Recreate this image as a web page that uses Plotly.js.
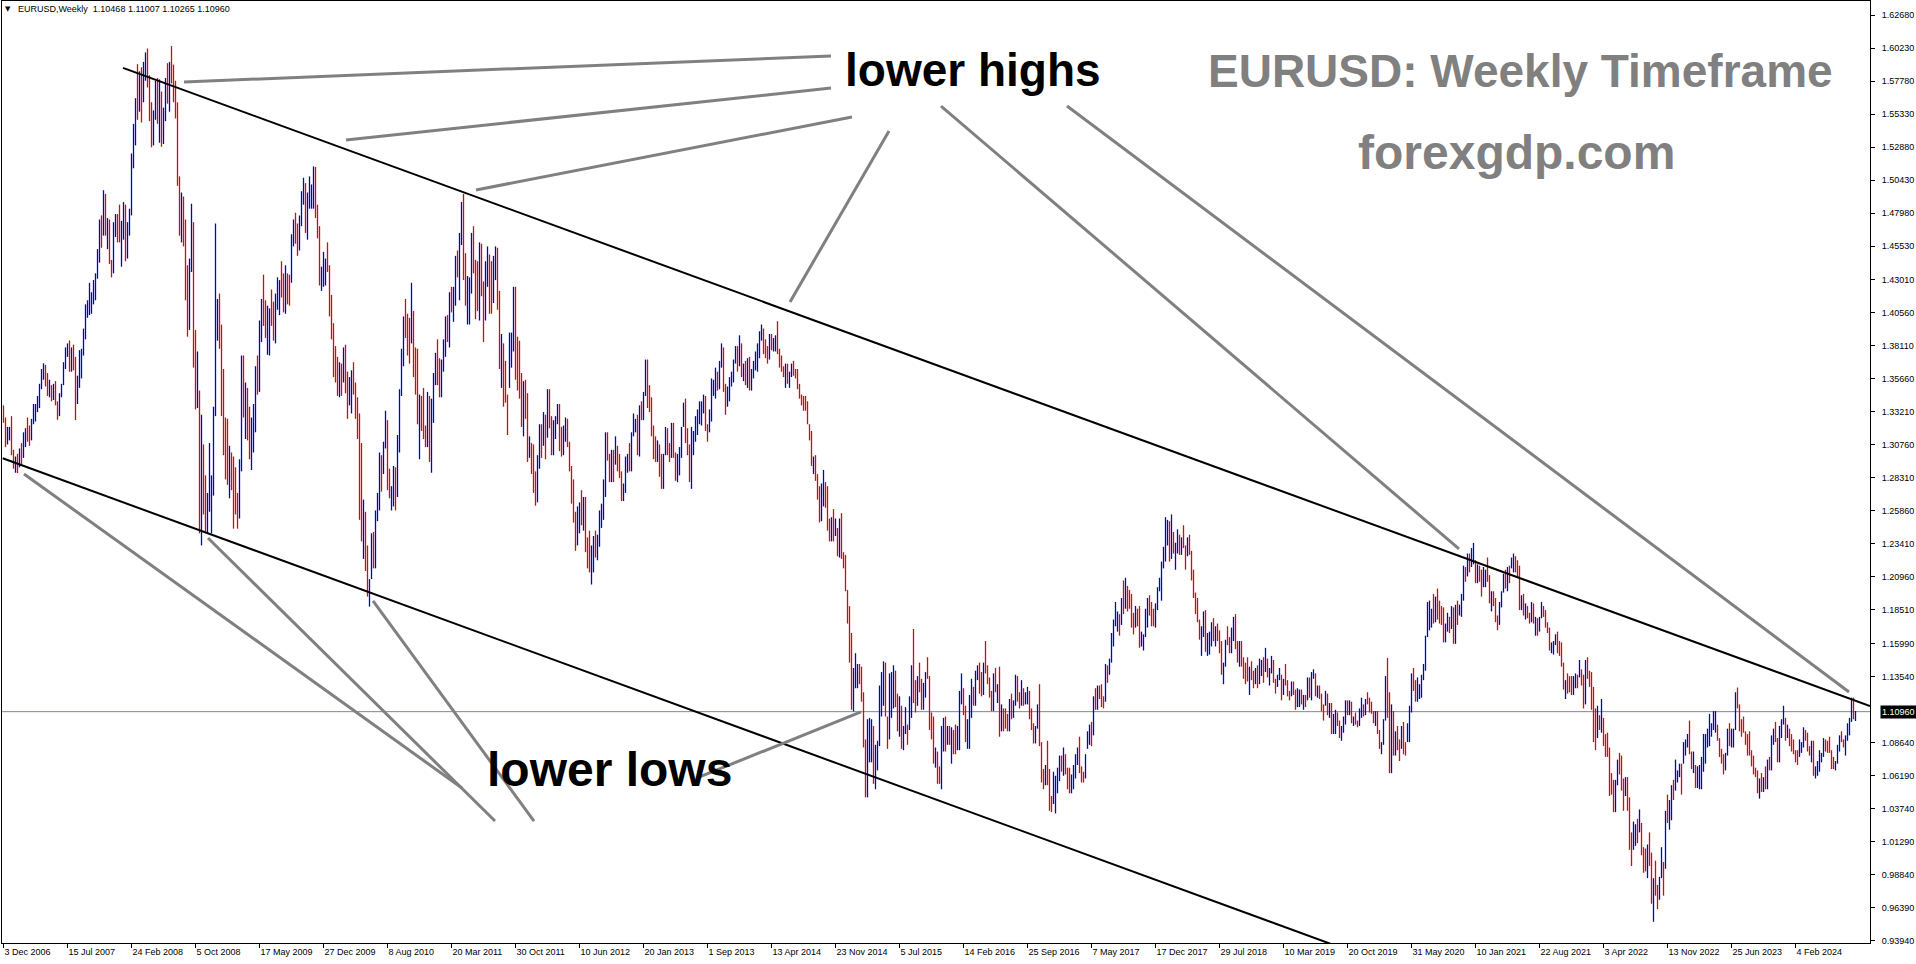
<!DOCTYPE html>
<html><head><meta charset="utf-8">
<script src="https://cdn.plot.ly/plotly-3.0.1.min.js"></script>
<style>html,body{margin:0;padding:0;background:#fff;overflow:hidden}#chart{width:1916px;height:964px}</style>
</head><body><div id="chart"></div>
<script>
// ---------------- DATA (weekly EURUSD bars, prices in 1/10000) ----------------
const PIP = 10000;
const firstOpen = 13300; // open of the first weekly bar; later opens = previous close
const weekHigh = [
13370,13280,13210,13210,13290,
13040,12990,13010,13050,13090,13170,13200,13280,13220,13270,13380,13380,13440,13530,13640,13682,13670,13610,13560,13520,13530,13550,13400,13460,13530,13690,13800,13830,13852,13800,13820,13730,13590,13780,13790,13940,14120,14150,14280,14210,14300,14350,14530,14750,14780,14967,14940,14760,14750,14450,14730,14790,
14790,14860,14740,14880,14860,14730,14830,15240,15460,15650,15903,15850,15880,15920,15990,16019,15820,15620,15560,15780,15800,15790,15700,15580,15800,15910,15920,16038,15900,15780,15620,15070,14950,14920,14750,14410,14460,14867,14730,13930,13770,13480,13300,13080,12850,12720,13090,12850,13360,14720,14160,14200,
13970,13640,13280,13270,13070,13020,12990,12910,12720,12970,13740,13740,13540,13500,13360,13280,13380,13660,13740,14000,14160,14340,14150,14110,14090,14230,14140,14200,14320,14300,14440,14350,14410,14350,14340,14640,14750,14800,14720,14780,14960,15060,15020,14950,15070,15010,15144,15140,14860,14700,14400,14510,
14460,14580,14410,14190,13980,13810,13730,13690,13680,13800,13820,13620,13580,13630,13690,13540,13430,13310,13090,12670,12580,12330,12080,12420,12430,12590,12720,13020,13000,13100,13330,13260,12900,12770,12920,12910,13150,13490,13790,14030,14160,14050,14020,14280,14070,13800,13790,13450,13440,13500,13220,13470,
13440,13420,13610,13760,13860,13720,13710,13860,14030,14040,14210,14250,14250,14480,14520,14650,14880,14940,14500,14330,14320,14650,14700,14450,14440,14580,14570,14290,14440,14550,14490,14440,14480,14550,14540,14220,13900,13830,13700,13450,13910,13910,14250,14250,13880,13850,13610,13550,13560,13460,13140,13090,
13080,12880,13000,13230,13230,13320,13300,13490,13490,13290,13260,13290,13380,13380,13210,13220,13280,13270,13100,12920,12820,12580,12620,12650,12740,12690,12690,12390,12440,12330,12400,12440,12410,12590,12640,12820,13170,13170,13010,13040,13040,13140,13070,13010,12880,12790,12990,13010,13090,13170,13310,13270,
13300,13370,13400,13470,13710,13710,13520,13430,13220,13140,13110,13080,13010,13010,13210,13200,13090,13240,13240,13020,13010,13060,13210,13390,13420,13200,13080,13210,13180,13290,13340,13400,13400,13450,13440,13230,13340,13570,13560,13650,13620,13700,13830,13800,13530,13510,13580,13620,13710,13810,13810,13890,
13830,13680,13700,13720,13730,13640,13700,13770,13830,13920,13970,13940,13860,13810,13900,13900,13870,13890,13995,13790,13740,13660,13680,13680,13620,13680,13700,13640,13640,13530,13450,13440,13440,13400,13230,13180,12990,13000,12860,12770,12790,12890,12800,12770,12530,12540,12600,12530,12460,12530,12570,12280,12260,
12000,11880,11680,11420,11530,11450,11450,11430,11240,10890,11040,11050,11040,10990,10850,10880,11290,11390,11470,11460,11060,11380,11390,11440,11400,11230,11210,11140,10990,11130,11000,11210,11440,11710,11330,11360,11460,11340,11310,11390,11500,11360,11090,11060,10830,10800,10690,10990,11050,11060,10990,10990,
10980,10960,11000,10990,11250,11380,11270,11140,11040,11220,11340,11280,11400,11440,11460,11390,11460,11620,11440,11350,11250,11380,11420,11300,11430,11150,11120,11120,11080,11190,11230,11180,11370,11360,11240,11330,11270,11240,11280,11250,11120,11010,10990,11150,11300,10870,10670,10700,10880,10670,10470,
10650,10620,10680,10770,10770,10830,10780,10680,10680,10630,10700,10780,10830,10910,10690,10650,10780,10950,11000,11020,11210,11270,11290,11290,11300,11210,11450,11440,11490,11680,11780,11910,11840,11820,11940,12070,12090,12030,12000,11970,11830,11880,11860,11880,11690,11670,11860,11940,11960,11910,11860,11900,
12020,12090,12210,12320,12540,12520,12510,12560,12430,12350,12450,12410,12390,12480,12330,12390,12410,12290,12150,11980,11940,11780,11730,11840,11850,11680,11690,11760,11790,11730,11750,11700,11620,11460,11630,11730,11650,11720,11800,11820,11620,11620,11620,11500,11460,11500,11430,11470,11400,11420,11440,11490,
11480,11500,11570,11490,11420,11510,11480,11340,11370,11420,11370,11340,11450,11330,11250,11320,11320,11260,11270,11260,11260,11220,11220,11350,11350,11390,11410,11380,11290,11290,11230,11150,11250,11230,11160,11160,11080,11110,11090,11030,10990,11060,11180,11180,11180,11170,11060,11090,11030,11120,11200,11150,
11190,11240,11200,11170,11100,11100,11100,10960,10870,11040,11360,11495,11240,11150,11100,10950,10990,10890,10990,11020,10870,11010,11140,11380,11420,11330,11350,11300,11370,11450,11660,11910,11920,11860,11970,11950,12010,11920,11880,11870,11750,11830,11800,11880,11870,11890,11920,11890,11970,12180,12170,12270,
12270,12310,12349,12220,12190,12180,12150,12170,12150,12240,12110,11990,11990,11940,11810,11910,11990,12120,12150,12170,12180,12240,12270,12250,12220,12180,11960,11970,11900,11880,11830,11910,11900,11800,11790,11800,11910,11880,11850,11760,11720,11610,11620,11670,11690,11620,11610,11460,11330,11380,11360,11360,
11360,11380,11370,11480,11410,11370,11480,11500,11400,11390,11280,11120,11140,11070,11190,11050,10930,10940,10830,10640,10590,10590,10740,10790,10770,10600,10610,10610,10460,10200,10280,10260,10300,10370,10270,10090,10080,10110,10200,10050,9860,9990,9810,9870,10090,9980,10360,10480,10440,10550,10590,10740,
10660,10710,10710,10870,10890,10930,11030,10800,10800,10700,10690,10700,10760,10930,10930,10970,11080,11010,11100,11100,11000,10900,10820,10780,10790,10970,11010,10970,10970,11240,11275,11150,11040,11060,10950,10930,10950,10810,10770,10680,10660,10600,10640,10610,10690,10740,10760,10920,10970,11020,10900,10990,
11040,11140,11050,11000,10970,10930,10890,10810,10810,10890,10870,10980,10960,10940,10840,10880,10880,10690,10730,10810,10790,10900,10890,10880,10910,10810,10760,10730,10850,10920,10950,10890,10920,11010,11050,11200,11200,11100.7
];
const weekLow = [
13240,13060,13080,13110,13000,
12900,12870,12867,12910,12930,12980,13060,13100,13070,13110,13230,13250,13320,13350,13490,13560,13510,13440,13430,13400,13410,13370,13263,13290,13430,13520,13640,13730,13620,13620,13630,13261,13380,13500,13570,13740,13860,14020,14040,14050,14120,14150,14310,14430,14540,14630,14630,14530,14420,14320,14350,14620,
14580,14580,14400,14600,14440,14460,14630,14780,15130,15300,15490,15550,15470,15620,15780,15730,15480,15286,15300,15490,15460,15320,15290,15310,15480,15610,15550,15760,15620,15500,15000,14630,14580,14550,14150,13880,13930,14360,13650,13340,13350,12420,12330,12560,12420,12420,12580,12420,12700,13290,13850,13790,
13290,13000,12820,12780,12680,12740,12455,12560,12455,12530,12880,13280,13120,13110,12970,12890,13020,13170,13450,13470,13840,13960,13870,13745,13740,13960,13850,13830,14080,14040,14170,14060,14050,14120,14110,14280,14550,14570,14480,14520,14700,14860,14650,14600,14830,14830,14830,14760,14610,14260,14220,14250,
14260,14360,14030,13860,13580,13540,13440,13430,13440,13540,13460,13270,13370,13310,13450,13270,13120,12520,12360,12230,12140,11950,11876,12080,12160,12160,12510,12590,12730,12860,13050,12740,12680,12590,12620,12590,12690,13020,13440,13660,13870,13740,13680,13830,13580,13450,13230,12970,13180,13120,13060,13060,
12950,12870,13240,13520,13520,13430,13430,13620,13730,13840,13800,14060,13990,14110,14320,14150,14560,14300,14110,13970,13970,14200,14350,14010,14070,14000,14180,13840,14000,14250,14050,14050,14130,14300,14080,13640,13500,13360,13390,13150,13500,13650,13770,13560,13480,13420,13210,13140,13270,12950,12980,12860,
12720,12625,12650,12900,12980,13070,12970,13130,13200,13000,13000,13120,13230,13030,12990,13000,13100,13060,12880,12640,12500,12290,12330,12420,12480,12440,12280,12160,12130,12040,12130,12240,12220,12320,12460,12520,12690,12960,12800,12800,12800,12930,12880,12830,12660,12660,12720,12870,12880,12880,13140,13170,
13000,12990,13260,13260,13440,13350,13320,13140,12970,12950,12950,12840,12750,12750,13000,13000,12950,12980,12980,12810,12800,12850,12980,13210,13090,13000,12800,12750,13000,13100,13150,13230,13220,13310,13180,13100,13170,13250,13440,13420,13480,13490,13650,13470,13300,13360,13400,13510,13540,13680,13620,13660,
13580,13550,13520,13500,13480,13480,13570,13630,13620,13720,13850,13750,13720,13680,13710,13780,13770,13770,13750,13650,13620,13580,13500,13530,13500,13580,13590,13570,13490,13420,13370,13330,13330,13230,13110,12920,12860,12810,12670,12500,12510,12620,12610,12440,12360,12360,12360,12400,12250,12240,12230,12160,11990,
11750,11460,11110,11098,11270,11270,11300,11170,10830,10460,10460,10720,10720,10560,10520,10660,10840,11060,11140,11060,10820,10890,11050,11120,11130,10950,10910,10820,10810,10930,10850,10960,11050,11160,11090,11140,11240,11110,11110,11200,11340,10960,10890,10710,10680,10560,10560,10520,10800,10800,10850,10850,
10710,10780,10780,10810,10810,11150,11070,10870,10820,10820,11050,11140,11140,11330,11230,11210,11220,11380,11300,11200,11100,11100,11240,11160,10910,10950,10950,10970,10950,10950,11040,11050,11140,11170,11120,11140,11140,11150,11150,11040,10960,10860,10860,10970,10840,10570,10520,10550,10550,10360,10350,
10410,10340,10490,10580,10650,10620,10630,10520,10490,10490,10520,10600,10700,10640,10570,10570,10600,10820,10850,10840,10920,11110,11110,11190,11130,11120,11170,11310,11370,11460,11580,11730,11690,11660,11740,11820,11860,11840,11860,11720,11670,11720,11730,11570,11580,11550,11650,11720,11810,11730,11730,11720,
11850,11990,11920,12160,12210,12330,12210,12230,12270,12150,12270,12260,12260,12310,12150,12250,12260,12070,11940,11820,11760,11630,11510,11650,11540,11510,11520,11580,11620,11580,11620,11530,11370,11300,11430,11590,11530,11530,11620,11560,11460,11430,11430,11340,11300,11320,11220,11330,11270,11300,11270,11300,
11360,11310,11390,11350,11290,11380,11310,11230,11280,11330,11180,11220,11290,11210,11180,11210,11220,11110,11130,11130,11150,11110,11130,11180,11200,11180,11340,11210,11200,11190,11100,11030,11140,11070,11050,10930,10930,10930,10990,10900,10880,10940,11000,11070,11070,11010,10990,11000,10980,10990,11050,11060,
11070,11150,11090,11080,11010,10990,10930,10820,10780,10850,11030,11050,10640,10640,10770,10770,10810,10730,10820,10780,10770,10870,10870,11090,11250,11170,11170,11190,11200,11330,11400,11650,11700,11720,11750,11760,11780,11750,11740,11610,11610,11690,11680,11710,11600,11600,11740,11810,11800,11920,12060,12100,
12130,12170,12190,12050,12050,12060,11950,12020,12020,12060,11900,11840,11880,11760,11700,11740,11870,11980,12010,11990,12050,12160,12130,12130,12090,11850,11850,11810,11780,11790,11750,11760,11750,11660,11660,11690,11790,11800,11720,11680,11550,11530,11520,11590,11530,11510,11430,11260,11190,11230,11240,11220,
11220,11270,11270,11350,11290,11120,11150,11340,11280,11110,10870,10810,10900,10960,10940,10840,10760,10760,10470,10480,10350,10350,10550,10630,10510,10360,10470,10360,10070,9950,10070,10100,10120,10200,10030,9900,9910,9860,9950,9670,9536,9730,9630,9700,9860,9730,9930,10270,10220,10290,10440,10510,
10570,10610,10480,10710,10770,10830,10780,10670,10640,10530,10530,10520,10520,10650,10710,10830,10840,10910,10960,10940,10880,10760,10710,10630,10660,10770,10840,10830,10830,10960,11120,10950,10910,10940,10850,10770,10770,10690,10630,10610,10490,10450,10500,10500,10520,10520,10660,10660,10850,10870,10720,10720,
10900,11000,10880,10900,10840,10800,10780,10720,10700,10760,10790,10830,10880,10800,10770,10720,10620,10600,10620,10650,10720,10760,10800,10790,10790,10670,10670,10660,10710,10800,10870,10830,10770,10880,10920,11020,11040,11026.5
];
const weekClose = [
13265,13080,13160,13200,13000,
12925,12950,12945,13030,12990,13140,13160,13150,13120,13250,13300,13350,13370,13510,13590,13630,13550,13480,13520,13470,13520,13380,13320,13440,13530,13680,13780,13810,13690,13780,13710,13420,13510,13720,13760,13870,14080,14090,14120,14180,14290,14330,14500,14660,14650,14830,14630,14660,14430,14390,14720,14760,
14720,14620,14690,14830,14510,14640,14790,15180,15360,15620,15590,15800,15690,15810,15960,15790,15500,15470,15500,15760,15550,15690,15400,15560,15780,15690,15900,15860,15720,15550,15020,14720,14860,14670,14270,14160,14400,14610,13780,13400,13420,12680,12740,12730,12580,12590,12690,12710,13310,13950,14040,13920,
13430,13280,12850,12800,12930,12860,12670,12670,12550,12920,13600,13280,13480,13200,13000,13250,13270,13640,13520,13990,14150,13960,13900,13940,14010,13980,13930,14160,14200,14250,14180,14180,14340,14320,14310,14580,14730,14690,14570,14730,14950,15000,14720,14850,14900,14910,14980,14770,14620,14340,14360,14410,
14410,14380,14140,13870,13680,13620,13610,13630,13620,13760,13530,13380,13480,13590,13500,13380,13290,12760,12370,12560,12270,11970,12110,12390,12370,12570,12630,12940,12900,13050,13280,12750,12710,12760,12900,12740,13050,13480,13780,13980,13970,13950,13940,14030,13680,13670,13240,13410,13300,13180,13110,13370,
12980,13380,13600,13610,13580,13500,13680,13750,13990,13900,14180,14090,14230,14470,14440,14570,14820,14310,14120,14160,14310,14640,14430,14310,14190,14500,14260,14150,14390,14390,14290,14230,14390,14500,14210,13650,13800,13500,13390,13380,13880,13890,14140,13790,13740,13530,13240,13440,13390,13040,13050,12960,
12720,12680,12930,13220,13150,13200,13160,13450,13210,13110,13180,13270,13340,13100,13070,13210,13250,13080,12920,12780,12510,12420,12510,12640,12570,12660,12290,12250,12160,12320,12390,12290,12330,12510,12580,12810,13130,12980,12860,13030,12950,13020,12940,12840,12710,12740,12980,12980,12920,13160,13180,13220,
13070,13360,13320,13460,13630,13360,13360,13190,13020,12990,13080,12990,12820,13000,13110,13050,13030,13120,12990,12840,12930,13000,13200,13350,13120,13010,12830,13070,13140,13280,13280,13340,13340,13380,13210,13180,13300,13520,13530,13550,13540,13680,13800,13480,13360,13500,13560,13590,13700,13740,13680,13790,
13590,13670,13540,13680,13490,13630,13690,13740,13800,13910,13910,13790,13760,13700,13890,13810,13830,13870,13760,13700,13630,13630,13640,13540,13600,13640,13600,13600,13520,13430,13420,13410,13400,13240,13130,12950,12960,12830,12690,12520,12630,12760,12670,12450,12440,12530,12390,12450,12290,12470,12240,12190,12000,
11840,11560,11200,11290,11310,11390,11380,11200,10840,10490,10820,10890,10970,10600,10800,10870,11200,11200,11450,11010,10950,11110,11260,11350,11160,11100,11160,10830,10980,10980,10970,11100,11380,11180,11150,11340,11300,11200,11210,11360,11350,11010,11000,10740,10770,10690,10590,10880,10990,10870,10960,10860,
10920,10910,10800,10830,11160,11260,11130,10930,10970,11150,11270,11170,11390,11400,11280,11220,11450,11400,11310,11220,11110,11370,11250,11280,11120,11140,11050,11040,10970,11170,11090,11160,11330,11190,11150,11230,11150,11230,11240,11090,10970,10890,10980,11140,10850,10590,10590,10660,10560,10450,10450,
10520,10530,10640,10700,10690,10780,10640,10620,10560,10620,10670,10740,10800,10650,10640,10620,10720,10900,10990,10930,11200,11180,11280,11200,11200,11190,11420,11400,11470,11660,11750,11770,11820,11760,11920,11860,12030,11950,11950,11810,11730,11820,11780,11600,11610,11660,11790,11930,11890,11770,11750,11860,
12000,12030,12200,12220,12430,12460,12250,12410,12290,12310,12310,12290,12350,12320,12280,12330,12280,12130,11960,11940,11770,11650,11660,11770,11610,11660,11680,11750,11680,11720,11660,11560,11410,11440,11620,11600,11560,11620,11760,11600,11520,11560,11520,11400,11390,11330,11420,11340,11310,11410,11300,11370,
11470,11390,11470,11360,11410,11460,11320,11290,11330,11360,11230,11330,11300,11220,11220,11300,11250,11150,11200,11230,11160,11210,11170,11330,11210,11370,11370,11230,11270,11220,11130,11110,11200,11090,11140,10990,11030,11070,11020,10940,10980,11040,11140,11080,11160,11020,11050,11020,11020,11060,11120,11080,
11180,11160,11120,11090,11020,11090,10940,10830,10840,11030,11280,11100,10690,11140,10800,10930,10870,10820,10980,10840,10810,10900,11100,11290,11260,11180,11220,11250,11300,11430,11650,11780,11790,11840,11800,11910,11840,11840,11840,11630,11720,11820,11720,11860,11650,11870,11830,11860,11960,12120,12110,12250,
12180,12210,12220,12080,12170,12140,12050,12120,12120,12070,11910,11950,11900,11790,11760,11900,11980,12100,12020,12160,12140,12190,12190,12170,12110,11860,11940,11860,11870,11800,11770,11870,11760,11790,11700,11790,11880,11810,11730,11720,11560,11570,11600,11640,11560,11560,11440,11290,11320,11310,11260,11240,
11320,11370,11360,11410,11340,11150,11450,11350,11320,11270,10930,10910,11050,10980,11050,10880,10800,10800,10550,10550,10410,10560,10730,10720,10520,10500,10550,10430,10180,10080,10210,10220,10180,10260,10040,9960,9950,10040,10010,9690,9800,9740,9720,9860,9970,9960,10350,10320,10400,10540,10530,10590,
10620,10700,10650,10830,10860,10870,10790,10680,10690,10550,10630,10640,10670,10760,10840,10900,10990,10990,11020,11020,10890,10800,10720,10710,10750,10940,10850,10910,10960,11230,11130,11010,11010,10950,10870,10800,10780,10700,10660,10650,10570,10590,10510,10590,10560,10730,10690,10910,10940,10880,10760,10900,
11010,11040,10940,10950,10900,10850,10790,10780,10780,10820,10840,10940,10890,10810,10790,10840,10640,10660,10690,10760,10770,10870,10850,10850,10800,10700,10690,10710,10840,10910,10880,10860,10910,10920,11030,11190,11046.8,11096
];
// x-axis date labels, one every labelStep weekly bars starting at bar 0
const dateLabels = ["3 Dec 2006","15 Jul 2007","24 Feb 2008","5 Oct 2008","17 May 2009","27 Dec 2009","8 Aug 2010","20 Mar 2011","30 Oct 2011","10 Jun 2012","20 Jan 2013","1 Sep 2013","13 Apr 2014","23 Nov 2014","5 Jul 2015","14 Feb 2016","25 Sep 2016","7 May 2017","17 Dec 2017","29 Jul 2018","10 Mar 2019","20 Oct 2019","31 May 2020","10 Jan 2021","22 Aug 2021","3 Apr 2022","13 Nov 2022","25 Jun 2023","4 Feb 2024"];
const labelStep = 32;
const priceTicks = [1.62680,1.60230,1.57780,1.55330,1.52880,1.50430,1.47980,1.45530,1.43010,1.40560,1.38110,1.35660,1.33210,1.30760,1.28310,1.25860,1.23410,1.20960,1.18510,1.15990,1.13540,1.08640,1.06190,1.03740,1.01290,0.98840,0.96390,0.93940];
const bidPrice = 1.10960;
const lastQuote = ["1.10468","1.11007","1.10265","1.10960"];
// drawn trend lines (bar index, price)
const upperTrendIdx = [59.75, 933.25];
const upperTrendPrice = [1.5875, 1.1138];
const lowerTrendIdx = [-0.4, 720];
const lowerTrendPrice = [1.2977, 0.9066];
// grey pointer lines (bar index, price)
const pointerStartIdx = [90.25,171.25,236.25,393.25,468.75,531.75,10.25,102.25,184.75,346.75];
const pointerStartPrice = [1.5771,1.5340,1.4969,1.4137,1.5592,1.5592,1.2860,1.2385,1.1918,1.0604];
const pointerEndIdx = [413.75,413.75,424.25,442.75,727.75,922.75,229.25,245.75,265.25,428.75];
const pointerEndPrice = [1.5964,1.5726,1.5511,1.5407,1.2304,1.1242,1.0529,1.0284,1.0284,1.1094];

// ---------------- BUILD ----------------
const n = weekClose.length;
if (weekHigh.length !== n || weekLow.length !== n) console.error('length mismatch', weekHigh.length, weekLow.length, n);
const idx = [], op = [], hi = [], lo = [], cl = [];
for (let k = 0; k < n; k++) {
  idx.push(k);
  op.push((k === 0 ? firstOpen : weekClose[k - 1]) / PIP);
  hi.push(weekHigh[k] / PIP);
  lo.push(weekLow[k] / PIP);
  cl.push(weekClose[k] / PIP);
}

const W = 1916, H = 964, M = {l: 2, r: 46, t: 1, b: 21};
const px2x = px => (px - M.l) / (W - M.l - M.r);
const py2y = py => 1 - (py - M.t) / (H - M.t - M.b);
const FONT = 'Liberation Sans, Arial, sans-serif';

const trace = {
  type: 'ohlc', x: idx, open: op, high: hi, low: lo, close: cl,
  tickwidth: 0, hoverinfo: 'skip',
  increasing: {line: {color: '#0000d2', width: 1.3}},
  decreasing: {line: {color: '#e60000', width: 1.3}}
};

const shapes = [
  {type: 'line', xref: 'paper', yref: 'y', x0: 0, x1: 1, y0: bidPrice, y1: bidPrice, layer: 'below', line: {color: '#778899', width: 1}},
  {type: 'line', xref: 'x', yref: 'y', x0: upperTrendIdx[0], x1: upperTrendIdx[1], y0: upperTrendPrice[0], y1: upperTrendPrice[1], line: {color: '#000', width: 2}},
  {type: 'line', xref: 'x', yref: 'y', x0: lowerTrendIdx[0], x1: lowerTrendIdx[1], y0: lowerTrendPrice[0], y1: lowerTrendPrice[1], line: {color: '#000', width: 2}}
];
for (let k = 0; k < pointerStartIdx.length; k++) {
  shapes.push({type: 'line', xref: 'x', yref: 'y', x0: pointerStartIdx[k], y0: pointerStartPrice[k], x1: pointerEndIdx[k], y1: pointerEndPrice[k], line: {color: '#808080', width: 3}});
}

const big = (text, x, y, anchor, color, size) => ({
  xref: 'x', yref: 'y', x: x, y: y, xanchor: anchor, yanchor: 'middle', showarrow: false,
  text: text, font: {family: FONT, size: size, color: color, weight: 'bold'}
});

const annotations = [
  {xref: 'paper', yref: 'paper', x: px2x(3), y: py2y(9), xanchor: 'left', yanchor: 'middle', showarrow: false, text: '\u25BC', font: {family: 'DejaVu Sans', size: 7, color: '#000'}},
  {xref: 'paper', yref: 'paper', x: px2x(16), y: py2y(9), xanchor: 'left', yanchor: 'middle', showarrow: false,
   text: 'EURUSD,Weekly\u00a0\u00a0' + lastQuote.join(' '), font: {family: FONT, size: 9, color: '#000'}},
  {xref: 'paper', yref: 'y', x: 1, y: bidPrice, xanchor: 'left', yanchor: 'middle', xshift: 10, showarrow: false,
   text: bidPrice.toFixed(5), bgcolor: '#000', borderpad: 1, font: {family: FONT, size: 9, color: '#fff'}},
  big('lower highs', 419.75, 1.5863, 'left', '#000', 46),
  big('lower lows', 240.5, 1.0665, 'left', '#000', 48),
  big('EURUSD: Weekly Timeframe', 758.25, 1.5852, 'center', '#808080', 46),
  big('forexgdp.com', 756.5, 1.5247, 'center', '#808080', 48)
];

const tickIdx = dateLabels.map((_, k) => k * labelStep);

const layout = {
  width: W, height: H, margin: M, paper_bgcolor: '#fff', plot_bgcolor: '#fff', showlegend: false,
  font: {family: FONT, size: 9, color: '#000'},
  xaxis: {range: [-0.75, 933.25], rangeslider: {visible: false}, showgrid: false, zeroline: false,
    showline: true, mirror: true, linecolor: '#000', linewidth: 1,
    tickmode: 'array', tickvals: tickIdx, ticktext: dateLabels, ticks: 'outside', ticklen: 4, tickcolor: '#000',
    ticklabelposition: 'outside right', tickfont: {family: FONT, size: 9, color: '#000'}, fixedrange: true},
  yaxis: {range: [0.93786, 1.63719], side: 'right', showgrid: false, zeroline: false,
    showline: true, mirror: true, linecolor: '#000', linewidth: 1,
    tickmode: 'array', tickvals: priceTicks, ticktext: priceTicks.map(v => v.toFixed(5)),
    ticks: 'outside', ticklen: 4, tickcolor: '#000', ticklabelstandoff: 5,
    tickfont: {family: FONT, size: 9, color: '#000'}, fixedrange: true},
  shapes: shapes, annotations: annotations
};

Plotly.newPlot('chart', [trace], layout, {staticPlot: true, displayModeBar: false});
</script>
</body></html>
